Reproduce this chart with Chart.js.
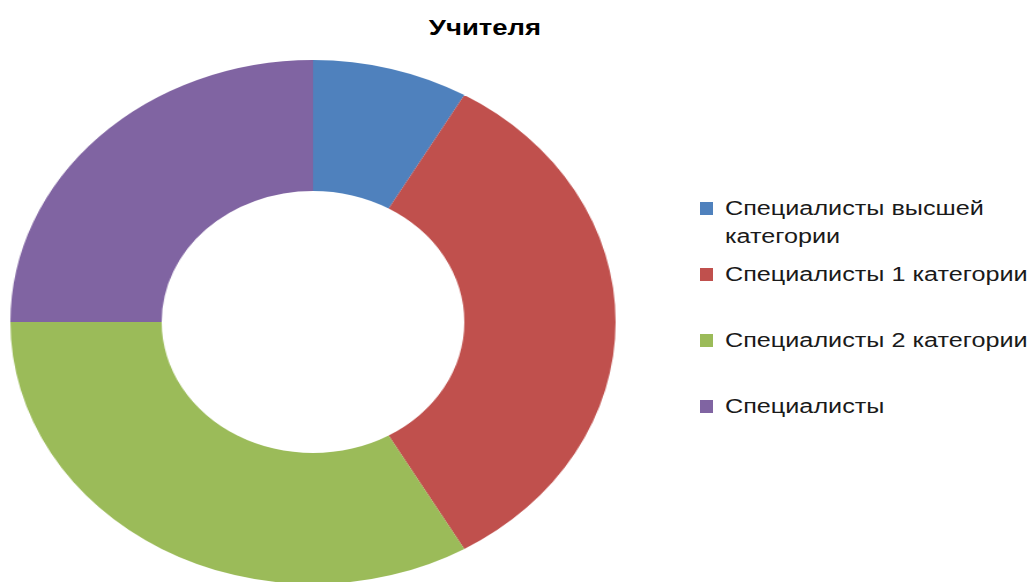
<!DOCTYPE html>
<html>
<head>
<meta charset="utf-8">
<script src="https://cdn.jsdelivr.net/npm/chart.js@4/dist/chart.umd.min.js"></script>
<style>
    html,body{margin:0;padding:0;background:#fff;}
    #page{position:relative;width:1029px;height:582px;overflow:hidden;font-family:"Liberation Sans",Arial,sans-serif;}
    .title{position:absolute;left:0;top:15px;width:970px;text-align:center;font-weight:bold;font-size:22px;color:#000;
        transform:scaleX(1.25);transform-origin:485px 0;}
    /* excel chart was stretched sideways, so the pie is too */
    .pie-wrap{position:absolute;left:51px;top:60px;width:524px;height:524px;transform:scaleX(1.155);transform-origin:center;}
    .legend{position:absolute;left:700px;top:194px;}
    .legend-item{display:flex;align-items:flex-start;height:66px;}
    .legend-box{width:13px;height:13px;margin-top:8px;flex:none;}
    .legend-text{margin-left:12px;font-size:20px;line-height:28px;color:#1a1a1a;width:255px;
        transform:scaleX(1.26);transform-origin:0 0;}
</style>
</head>
<body>
<div id="page">
    <div class="title" id="title"></div>
    <div class="pie-wrap"><canvas id="pie"></canvas></div>
    <div class="legend" id="legend"></div>
</div>

<script>
const chartTitle = "Учителя";
const categories = [
    "Специалисты высшей категории",
    "Специалисты 1 категории",
    "Специалисты 2 категории",
    "Специалисты"
];
const teachers = [1, 4, 4, 3];
const sliceColors = ["#4f81bd", "#c0504d", "#9bbb59", "#8064a2"];

document.getElementById("title").textContent = chartTitle;

// legend built by hand, Chart.js one can't wrap long labels
document.getElementById("legend").innerHTML = categories.map((c,i)=>`
    <div class="legend-item">
        <div class="legend-box" style="background:${sliceColors[i]}"></div>
        <div class="legend-text">${c}</div>
    </div>
`).join("");

const ctx = document.getElementById("pie").getContext("2d");

new Chart(ctx,{
    type:"doughnut",
    data:{
        labels:categories,
        datasets:[{
            data:teachers,
            backgroundColor:sliceColors,
            borderWidth:0,
            hoverOffset:0
        }]
    },
    options:{
        responsive:true,
        maintainAspectRatio:false,
        animation:false,
        cutout:"50%",
        layout:{padding:0},
        plugins:{
            legend:{display:false},
            title:{display:false},
            tooltip:{enabled:false}
        }
    }
});
</script>
</body>
</html>
